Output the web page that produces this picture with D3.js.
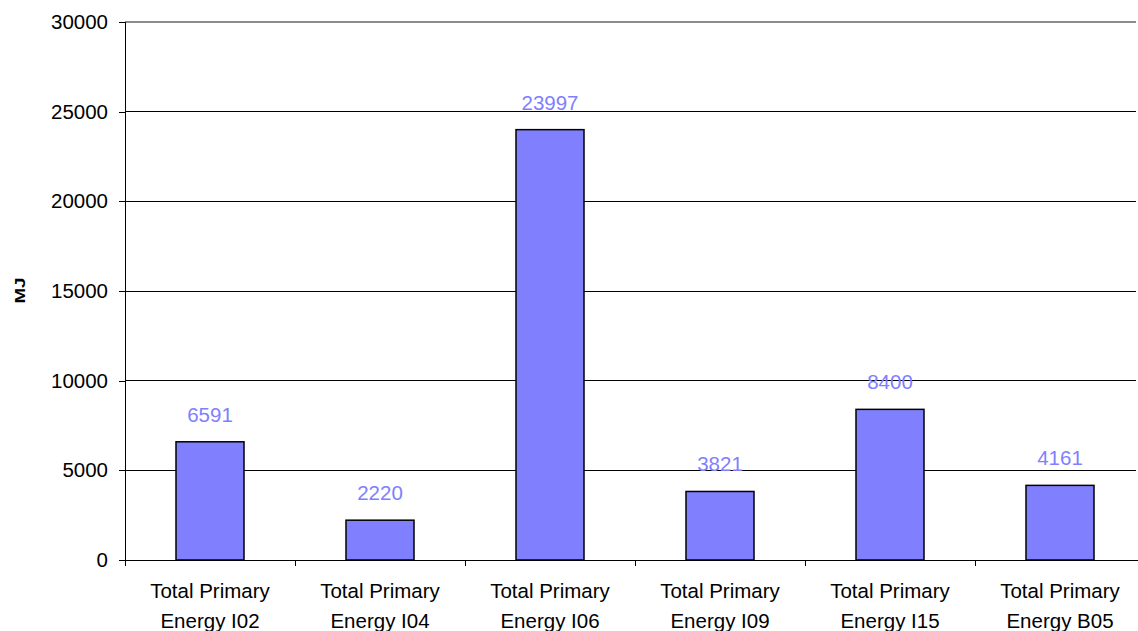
<!DOCTYPE html>
<html>
<head>
<meta charset="utf-8">
<script src="https://cdn.jsdelivr.net/npm/d3@7"></script>
<style>
  html, body { margin: 0; padding: 0; background: #fff; }
  svg { display: block; font-family: "Liberation Sans", Arial, sans-serif; }
</style>
</head>
<body>
<svg id="chart" width="1138" height="631"></svg>
<script>
// Primary energy totals per scenario (MJ)
const categories = [
  ["Total Primary", "Energy I02"],
  ["Total Primary", "Energy I04"],
  ["Total Primary", "Energy I06"],
  ["Total Primary", "Energy I09"],
  ["Total Primary", "Energy I15"],
  ["Total Primary", "Energy B05"]
];
const values = [6591, 2220, 23997, 3821, 8400, 4161];
const yTicks = [0, 5000, 10000, 15000, 20000, 25000, 30000];
const yTitle = "MJ";

const svg = d3.select("#chart");
const plotLeft = 125, plotRight = 1145, plotTop = 22, plotBottom = 560;
const fontSize = 20.5;

const x = d3.scaleBand()
  .domain(d3.range(categories.length))
  .range([plotLeft, plotRight])
  .paddingInner(0.6)
  .paddingOuter(0.3);

const bandStep = (plotRight - plotLeft) / categories.length;

const y = d3.scaleLinear().domain([0, 30000]).range([plotBottom, plotTop]);

// horizontal gridlines
svg.append("g")
  .selectAll("line")
  .data(yTicks.filter(d => d > 0))
  .join("line")
  .attr("x1", plotLeft).attr("x2", 1136)
  .attr("y1", d => y(d)).attr("y2", d => y(d))
  .attr("stroke", d => d === 30000 ? "#8c8c8c" : "#000")
  .attr("stroke-width", d => d === 30000 ? 2 : 1)
  .attr("shape-rendering", "crispEdges");

// y axis
const yAxis = d3.axisLeft(y).tickValues(yTicks).tickSize(6).tickPadding(11).tickFormat(d3.format("d"));
const gy = svg.append("g").attr("transform", `translate(${plotLeft},0)`).call(yAxis);
gy.select(".domain").attr("stroke", "#000").attr("shape-rendering", "crispEdges");
gy.selectAll(".tick line").attr("stroke", "#000").attr("shape-rendering", "crispEdges");
gy.selectAll(".tick text").attr("font-size", fontSize).attr("fill", "#000")
  .attr("font-family", "Liberation Sans, Arial, sans-serif");

// x axis baseline and category separators
svg.append("line")
  .attr("x1", plotLeft).attr("x2", 1138)
  .attr("y1", plotBottom).attr("y2", plotBottom)
  .attr("stroke", "#000").attr("shape-rendering", "crispEdges");
svg.append("g")
  .selectAll("line")
  .data(d3.range(categories.length + 1))
  .join("line")
  .attr("x1", i => plotLeft + i * bandStep).attr("x2", i => plotLeft + i * bandStep)
  .attr("y1", plotBottom).attr("y2", plotBottom + 6)
  .attr("stroke", "#000").attr("shape-rendering", "crispEdges");

// bars
svg.append("g")
  .selectAll("rect")
  .data(values)
  .join("rect")
  .attr("x", (d, i) => x(i))
  .attr("width", x.bandwidth())
  .attr("y", d => y(d))
  .attr("height", d => y(0) - y(d))
  .attr("fill", "#8080ff")
  .attr("stroke", "#000")
  .attr("stroke-width", 1.5);

// value labels
svg.append("g")
  .selectAll("text")
  .data(values)
  .join("text")
  .attr("x", (d, i) => x(i) + x.bandwidth() / 2)
  .attr("y", d => y(d) - 20)
  .attr("text-anchor", "middle")
  .attr("font-size", fontSize)
  .attr("fill", "#8080ff")
  .text(d => d);

// category labels (two lines)
const cat = svg.append("g")
  .selectAll("text")
  .data(categories)
  .join("text")
  .attr("text-anchor", "middle")
  .attr("font-size", fontSize)
  .attr("fill", "#000");
cat.each(function(lines, i) {
  const t = d3.select(this);
  lines.forEach((s, k) => {
    t.append("tspan")
      .attr("x", x(i) + x.bandwidth() / 2)
      .attr("y", 598 + k * 30)
      .text(s);
  });
});

// y axis title
svg.append("text")
  .attr("transform", "translate(24.5,290.5) rotate(-90) scale(1.25,1)")
  .attr("text-anchor", "middle")
  .attr("font-size", 15)
  .attr("font-weight", "bold")
  .attr("fill", "#000")
  .text(yTitle);
</script>
</body>
</html>
